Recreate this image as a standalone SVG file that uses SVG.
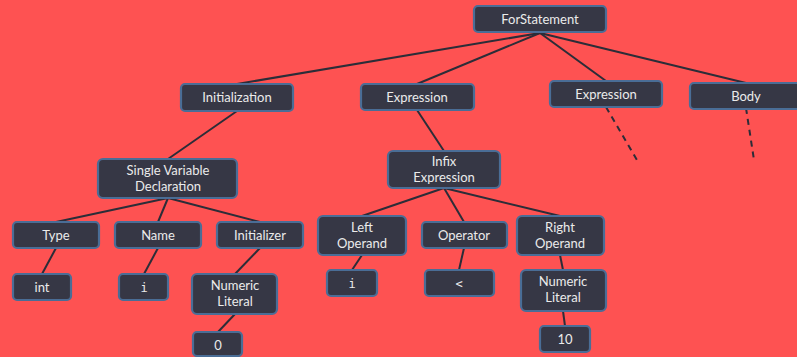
<svg xmlns="http://www.w3.org/2000/svg" width="797" height="357" viewBox="0 0 797 357">
<style>
.bg{fill:#fe5252}
.n rect{fill:#363745;stroke:#4a6d96;stroke-width:2.2}
.n text{fill:#ebebeb;font-family:Lato,"Open Sans",sans-serif;font-size:13px;text-anchor:middle}
.n text.m{font-family:"DejaVu Sans Mono","Liberation Mono",monospace;font-size:12px}
.e line{stroke:#2c2d38;stroke-width:2}
.e line.d{stroke-dasharray:6,5}
</style>
<rect class="bg" x="0" y="0" width="797" height="357"/>
<g class="e">
<line x1="540" y1="33" x2="237" y2="84"/>
<line x1="540" y1="33" x2="417" y2="84"/>
<line x1="540" y1="33" x2="606" y2="81"/>
<line x1="540" y1="33" x2="746" y2="83"/>
<line class="d" x1="606" y1="107" x2="637" y2="160"/>
<line class="d" x1="746" y1="108" x2="754" y2="160"/>
<line x1="237" y1="111" x2="168" y2="159"/>
<line x1="168" y1="198" x2="56" y2="222"/>
<line x1="168" y1="198" x2="158" y2="222"/>
<line x1="168" y1="198" x2="260" y2="222"/>
<line x1="56" y1="248" x2="42" y2="274"/>
<line x1="158" y1="248" x2="144" y2="274"/>
<line x1="260" y1="248" x2="235" y2="274"/>
<line x1="235" y1="314" x2="218" y2="332"/>
<line x1="417" y1="110" x2="444" y2="151"/>
<line x1="444" y1="188" x2="362" y2="216"/>
<line x1="444" y1="188" x2="464" y2="222"/>
<line x1="444" y1="188" x2="560" y2="216"/>
<line x1="362" y1="255" x2="352" y2="270"/>
<line x1="464" y1="248" x2="459" y2="270"/>
<line x1="560" y1="255" x2="563" y2="270"/>
<line x1="563" y1="311" x2="565" y2="326"/>
</g>
<g class="n" id="forStatement"><rect x="474" y="6" width="132" height="26" rx="4"/><text x="540" y="24">ForStatement</text></g>
<g class="n" id="initialization"><rect x="181" y="84" width="112" height="27" rx="4"/><text x="237" y="102">Initialization</text></g>
<g class="n" id="expression1"><rect x="361" y="84" width="113" height="26" rx="4"/><text x="417" y="102">Expression</text></g>
<g class="n" id="expression2"><rect x="550" y="81" width="112" height="26" rx="4"/><text x="606" y="99">Expression</text></g>
<g class="n" id="body"><rect x="690" y="83" width="112" height="26" rx="4"/><text x="746" y="101">Body</text></g>
<g class="n" id="svd"><rect x="98" y="159" width="139" height="39" rx="5"/><text x="168" y="175">Single Variable</text><text x="168" y="191">Declaration</text></g>
<g class="n" id="type"><rect x="13" y="222" width="86" height="26" rx="4"/><text x="56" y="240">Type</text></g>
<g class="n" id="name"><rect x="115" y="222" width="86" height="26" rx="4"/><text x="158" y="240">Name</text></g>
<g class="n" id="initializer"><rect x="217" y="222" width="86" height="26" rx="4"/><text x="260" y="240">Initializer</text></g>
<g class="n" id="int"><rect x="13" y="274" width="58" height="26" rx="4"/><text x="42" y="292">int</text></g>
<g class="n" id="nameI"><rect x="119" y="274" width="49" height="26" rx="4"/><text class="m" x="144" y="292">i</text></g>
<g class="n" id="numLit1"><rect x="192" y="274" width="85" height="40" rx="5"/><text x="235" y="290">Numeric</text><text x="235" y="306">Literal</text></g>
<g class="n" id="zero"><rect x="193" y="332" width="49" height="24" rx="4"/><text x="218" y="350">0</text></g>
<g class="n" id="infix"><rect x="388" y="151" width="112" height="37" rx="5"/><text x="444" y="166">Infix</text><text x="444" y="182">Expression</text></g>
<g class="n" id="leftOp"><rect x="318" y="216" width="88" height="39" rx="5"/><text x="362" y="232">Left</text><text x="362" y="248">Operand</text></g>
<g class="n" id="operator"><rect x="422" y="222" width="85" height="26" rx="4"/><text x="464" y="240">Operator</text></g>
<g class="n" id="rightOp"><rect x="517" y="216" width="87" height="39" rx="5"/><text x="560" y="232">Right</text><text x="560" y="248">Operand</text></g>
<g class="n" id="leftI"><rect x="327" y="270" width="50" height="26" rx="4"/><text class="m" x="352" y="288">i</text></g>
<g class="n" id="lt"><rect x="425" y="270" width="69" height="26" rx="4"/><text class="m" x="459" y="288">&lt;</text></g>
<g class="n" id="numLit2"><rect x="521" y="270" width="85" height="41" rx="5"/><text x="563" y="286">Numeric</text><text x="563" y="302">Literal</text></g>
<g class="n" id="ten"><rect x="540" y="326" width="50" height="26" rx="4"/><text x="565" y="344">10</text></g>
</svg>
